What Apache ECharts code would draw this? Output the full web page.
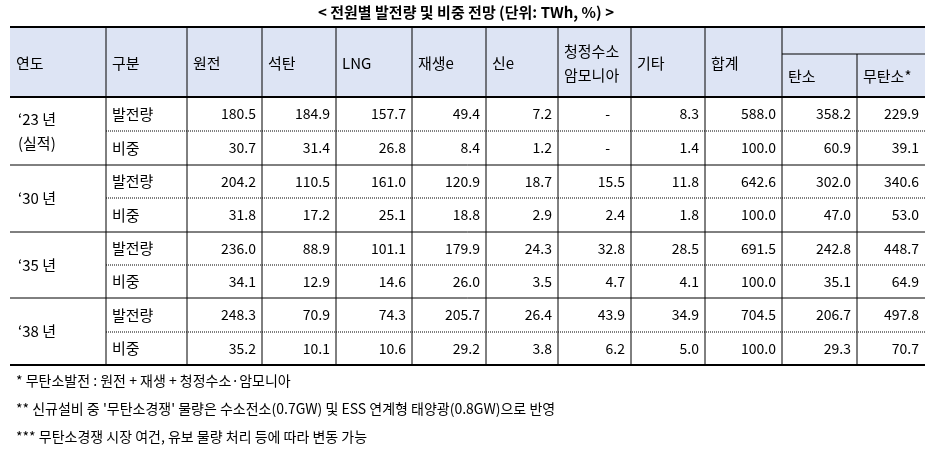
<!DOCTYPE html>
<html>
<head>
<meta charset="utf-8">
<script src="https://cdn.jsdelivr.net/npm/echarts@6/dist/echarts.min.js"></script>
<style>html,body{margin:0;padding:0;background:#fff}#main{width:933px;height:450px}</style>
</head>
<body>
<div id="main"></div>
<script>
// 표 데이터
const title = '< 전원별 발전량 및 비중 전망 (단위: TWh, %) >'
const headers = ['연도', '구분', '원전', '석탄', 'LNG', '재생e', '신e', '청정수소\n암모니아', '기타', '합계', '탄소', '무탄소*']
const years = ['‘23 년\n(실적)', '‘30 년', '‘35 년', '‘38 년']
const kinds = ['발전량', '비중']
const gen23 = ['180.5', '184.9', '157.7', '49.4', '7.2', '-', '8.3', '588.0', '358.2', '229.9']
const share23 = ['30.7', '31.4', '26.8', '8.4', '1.2', '-', '1.4', '100.0', '60.9', '39.1']
const gen30 = ['204.2', '110.5', '161.0', '120.9', '18.7', '15.5', '11.8', '642.6', '302.0', '340.6']
const share30 = ['31.8', '17.2', '25.1', '18.8', '2.9', '2.4', '1.8', '100.0', '47.0', '53.0']
const gen35 = ['236.0', '88.9', '101.1', '179.9', '24.3', '32.8', '28.5', '691.5', '242.8', '448.7']
const share35 = ['34.1', '12.9', '14.6', '26.0', '3.5', '4.7', '4.1', '100.0', '35.1', '64.9']
const gen38 = ['248.3', '70.9', '74.3', '205.7', '26.4', '43.9', '34.9', '704.5', '206.7', '497.8']
const share38 = ['35.2', '10.1', '10.6', '29.2', '3.8', '6.2', '5.0', '100.0', '29.3', '70.7']
const notes = [
  '* 무탄소발전 : 원전 + 재생 + 청정수소·암모니아',
  "** 신규설비 중 '무탄소경쟁' 물량은 수소전소(0.7GW) 및 ESS 연계형 태양광(0.8GW)으로 반영",
  '*** 무탄소경쟁 시장 여건, 유보 물량 처리 등에 따라 변동 가능'
]
const rows = [[gen23, share23], [gen30, share30], [gen35, share35], [gen38, share38]]

const colX = [10, 106, 187, 262, 336, 412, 486, 558, 631, 705, 782, 857, 925]
const headTop = 27, headBot = 97
const rowY = [97, 131, 165, 198, 232, 265, 298, 332, 365]
const font = '"Noto Sans CJK KR", sans-serif'
const g = []
const line = (x1, y1, x2, y2, w, dash) => g.push({ type: 'line', shape: { x1, y1, x2, y2 }, style: { stroke: '#000', lineWidth: w || 1, lineDash: dash || null } })
const text = (x, y, t, align, size, weight) => g.push({ type: 'text', x, y, style: { text: t, fill: '#000', font: (weight || 'normal') + ' ' + (size || 14) + 'px ' + font, align: align || 'left', verticalAlign: 'middle', lineHeight: 24 } })

g.push({ type: 'rect', shape: { x: colX[0], y: headTop, width: colX[12] - colX[0], height: headBot - headTop }, style: { fill: '#dde4f4' } })
text(466, 12, title, 'center', 15, 'bold')
// 헤더
headers.forEach((h, i) => {
  const y = i >= 10 ? 76 : 63
  text(colX[i] + 6, y, h, 'left', 15)
})
line(colX[0], headTop, colX[12], headTop, 2)
line(colX[0], headBot, colX[12], headBot, 2)
line(colX[10], 54, colX[12], 54, 1)
// 본문
rows.forEach((r, ri) => {
  const y0 = rowY[ri * 2], y1 = rowY[ri * 2 + 1], y2 = rowY[ri * 2 + 2]
  text(colX[0] + 8, (y0 + y2) / 2, years[ri], 'left', 15)
  r.forEach((vals, k) => {
    const yc = k ? (y1 + y2) / 2 : (y0 + y1) / 2
    text(colX[1] + 6, yc, kinds[k], 'left', 15)
    vals.forEach((v, j) => {
      const x = v === '-' ? colX[j + 2] + 52 : colX[j + 3] - 6
      text(x, yc, v, 'right', 14)
    })
  })
  line(colX[1], y1, colX[12], y1, 1, [1, 1])
  line(colX[0], y2, colX[12], y2, ri === 3 ? 2 : 1)
})
for (let i = 1; i < 12; i++) {
  const top = i === 11 ? 54 : headTop
  line(colX[i], top, colX[i], rowY[8], 1)
}
notes.forEach((n, i) => text(16, 381 + i * 28, n, 'left', 14))

const chart = echarts.init(document.getElementById('main'))
chart.setOption({ animation: false, graphic: { elements: g } })
</script>
</body>
</html>
